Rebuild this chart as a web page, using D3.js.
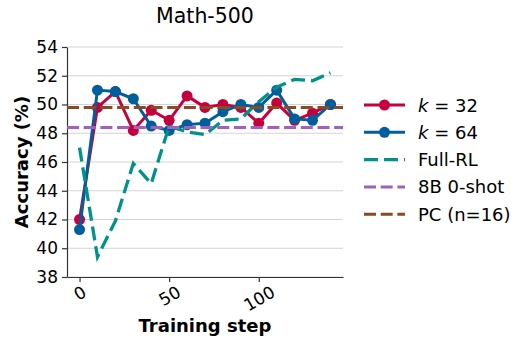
<!DOCTYPE html>
<html>
<head>
<meta charset="utf-8">
<script src="https://cdn.jsdelivr.net/npm/d3@7"></script>
<style>
  html, body { margin: 0; padding: 0; background: #fff; }
  svg { display: block; font-family: "DejaVu Sans", sans-serif; }
</style>
</head>
<body>
<svg id="chart" width="517" height="341"></svg>
<script>
// Training steps at which each run was evaluated
const steps = [0, 10, 20, 30, 40, 50, 60, 70, 80, 90, 100, 110, 120, 130, 140];

// Accuracy (%) on Math-500 per run
const k32 = [42.0, 49.8, 50.9, 48.2, 49.6, 48.9, 50.6, 49.8, 50.0, 49.8, 48.7, 50.1, 48.9, 49.4, 50.0];
const k64 = [41.3, 51.0, 50.9, 50.4, 48.5, 48.2, 48.6, 48.7, 49.5, 50.0, 49.8, 51.0, 49.0, 48.9, 50.0];
const fullRL = [47.0, 39.4, 41.9, 45.9, 44.5, 48.5, 48.1, 47.9, 48.9, 49.0, 50.2, 51.2, 51.75, 51.65, 52.2];

// Reference baselines
const zeroShot8B = 48.4;
const pcN16 = 49.8;

const yTicks = [38, 40, 42, 44, 46, 48, 50, 52, 54];
const xTicks = [0, 50, 100];

const C = {
  red: "#c5003c",
  blue: "#005e9d",
  teal: "#00918a",
  purple: "#a25fbf",
  brown: "#8b4a21",
  grid: "#d4d4d4",
  axis: "#333333"
};

const svg = d3.select("#chart");
const L = 67, R = 343, T = 47, B = 277;

const x = d3.scaleLinear().domain([-7, 147]).range([L, R]);
const y = d3.scaleLinear().domain([38, 54]).range([B, T]);

// horizontal grid
svg.append("g").selectAll("line").data(yTicks).join("line")
  .attr("x1", L).attr("x2", R)
  .attr("y1", d => y(d)).attr("y2", d => y(d))
  .attr("stroke", C.grid).attr("stroke-width", 1);

// y axis
const yAxis = svg.append("g").attr("transform", `translate(${L},0)`)
  .call(d3.axisLeft(y).tickValues(yTicks).tickSize(5).tickPadding(4).tickSizeOuter(0));
yAxis.select(".domain").attr("stroke", C.axis).attr("stroke-width", 1.2);
yAxis.selectAll(".tick line").attr("stroke", C.axis).attr("stroke-width", 1.2);
yAxis.selectAll(".tick text").attr("font-size", 17).attr("fill", "#000")
  .attr("font-family", "DejaVu Sans");

// x axis
const xAxis = svg.append("g").attr("transform", `translate(0,${B})`)
  .call(d3.axisBottom(x).tickValues(xTicks).tickSize(5).tickSizeOuter(0).tickFormat(d3.format("d")));
xAxis.select(".domain").attr("stroke", C.axis).attr("stroke-width", 1.2);
xAxis.selectAll(".tick line").attr("stroke", C.axis).attr("stroke-width", 1.2);
// rotated tick labels, rotated box centred under the tick
xAxis.selectAll(".tick text")
  .attr("font-size", 17).attr("fill", "#000").attr("font-family", "DejaVu Sans")
  .attr("text-anchor", "middle").attr("dy", null).attr("y", null)
  .attr("dominant-baseline", "central")
  .each(function() {
    const w = this.getComputedTextLength();
    const h = 12.5;
    const H = w * 0.5 + h * 0.866;
    d3.select(this).attr("transform", `translate(0,${8 + H / 2}) rotate(-30)`);
  });

// series
const line = d3.line().x((d, i) => x(steps[i])).y(d => y(d));

function solidSeries(vals, color) {
  svg.append("path").datum(vals)
    .attr("d", line).attr("fill", "none")
    .attr("stroke", color).attr("stroke-width", 3).attr("stroke-linejoin", "round");
  svg.append("g").selectAll("circle").data(vals).join("circle")
    .attr("cx", (d, i) => x(steps[i])).attr("cy", d => y(d))
    .attr("r", 5.5).attr("fill", color);
}
solidSeries(k32, C.red);
solidSeries(k64, C.blue);

svg.append("path").datum(fullRL)
  .attr("d", line).attr("fill", "none")
  .attr("stroke", C.teal).attr("stroke-width", 3.3)
  .attr("stroke-dasharray", "14,6");

function hline(v, color) {
  svg.append("line")
    .attr("x1", L).attr("x2", R).attr("y1", y(v)).attr("y2", y(v))
    .attr("stroke", color).attr("stroke-width", 3)
    .attr("stroke-dasharray", "12,4.7");
}
hline(zeroShot8B, C.purple);
hline(pcN16, C.brown);

// title & axis labels
svg.append("text").attr("x", (L + R) / 2).attr("y", 23)
  .attr("text-anchor", "middle").attr("font-size", 20.5).text("Math-500");
svg.append("text").attr("x", (L + R) / 2).attr("y", 332)
  .attr("text-anchor", "middle").attr("font-size", 18).attr("font-weight", "bold")
  .text("Training step");
svg.append("text")
  .attr("transform", `translate(28,${(T + B) / 2}) rotate(-90)`)
  .attr("text-anchor", "middle").attr("font-size", 18).attr("font-weight", "bold")
  .text("Accuracy (%)");

// legend
const legendItems = [
  { kind: "marker", color: C.red, k: "32" },
  { kind: "marker", color: C.blue, k: "64" },
  { kind: "dash", color: C.teal, label: "Full-RL", dash: "14,6", w: 3.3 },
  { kind: "dash", color: C.purple, label: "8B 0-shot", dash: "12,4.7", w: 3 },
  { kind: "dash", color: C.brown, label: "PC (n=16)", dash: "12,4.7", w: 3 }
];
const lg = svg.append("g");
legendItems.forEach((it, i) => {
  const cy = 105 + i * 27.3;
  const g = lg.append("g");
  g.append("line").attr("x1", 364).attr("x2", 405).attr("y1", cy).attr("y2", cy)
    .attr("stroke", it.color).attr("stroke-width", it.w || 3)
    .attr("stroke-dasharray", it.dash || null);
  if (it.kind === "marker") {
    g.append("circle").attr("cx", 384.5).attr("cy", cy).attr("r", 5.5).attr("fill", it.color);
    const t = g.append("text").attr("x", 418).attr("y", cy + 6.5).attr("font-size", 18);
    t.append("tspan").attr("font-style", "italic").text("k");
    t.append("tspan").text(" = " + it.k);
  } else {
    g.append("text").attr("x", 418).attr("y", cy + 6.5).attr("font-size", 18).text(it.label);
  }
});
</script>
</body>
</html>
